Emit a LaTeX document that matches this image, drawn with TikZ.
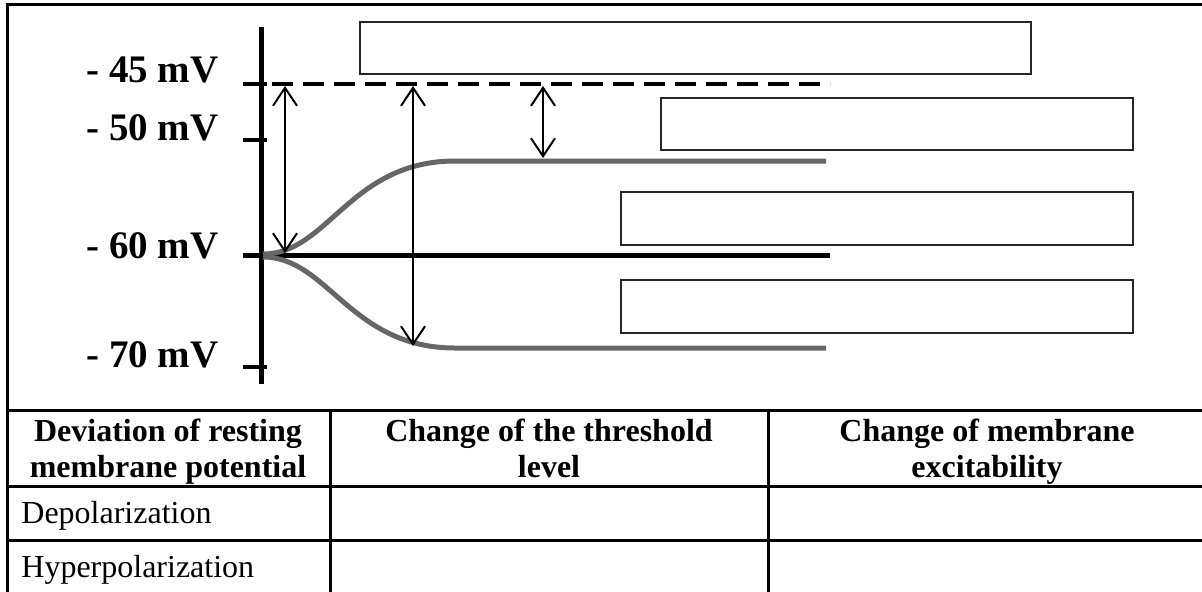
\documentclass[tikz,border=0pt]{standalone}
\usepackage{fontspec}
\setmainfont{Liberation Serif}
\usetikzlibrary{arrows.meta, positioning}
\definecolor{curvegray}{RGB}{102,102,102}
\tikzstyle{arrow} = [line width=1pt, {Straight Barb[length=9pt,width=12pt]}-{Straight Barb[length=9pt,width=12pt]}]
\tikzstyle{answerbox} = [rectangle, draw=black!85, line width=1pt, fill=white, anchor=north west, inner sep=0pt]
\tikzstyle{levellabel} = [anchor=base west, inner sep=0pt, font=\fontsize{19.5}{22}\selectfont\bfseries]
\tikzstyle{axistick} = [line width=2pt]
\tikzstyle{potcurve} = [draw=curvegray, line width=2.5pt]
\tikzstyle{tablerule} = [line width=1.5pt]
\tikzstyle{headtext} = [anchor=base, align=center, inner sep=0pt, font=\fontsize{16}{18}\selectfont\bfseries]
\tikzstyle{rowlabel} = [anchor=base west, inner sep=0pt, font=\fontsize{16}{18}\selectfont]

\begin{document}
\begin{tikzpicture}[x=0.5pt, y=-0.5pt]
    \useasboundingbox (0,0) rectangle (1202,591);

    % Frame and table
    \draw[tablerule] (7,4) rectangle (1206,596);
    \draw[tablerule] (7,410) -- (1206,410);
    \draw[tablerule] (7,486) -- (1206,486);
    \draw[tablerule] (7,540) -- (1206,540);
    \draw[tablerule] (330,410) -- (330,596);
    \draw[tablerule] (768,410) -- (768,596);

    % Axis and levels
    \coordinate (axtop) at (261,27);
    \coordinate (axbot) at (261,384);
    \draw[line width=2.5pt] (axtop) -- (axbot);
    \draw[axistick] (243,84) -- (267,84);
    \draw[axistick] (243,140) -- (267,140);
    \draw[axistick] (243,367) -- (267,367);
    \draw[line width=2pt, dash pattern=on 10.5pt off 5pt] (272,84) -- (830,84);
    \draw[line width=2.5pt] (243,255) -- (830,255);

    \node[levellabel] (l45) at (86,82) {- 45 mV};
    \node[levellabel] (l50) at (86,140) {- 50 mV};
    \node[levellabel] (l60) at (86,258) {- 60 mV};
    \node[levellabel] (l70) at (86,367) {- 70 mV};

    % Depolarization and hyperpolarization
    \draw[potcurve] (263,254) .. controls (328,254) and (350,161) .. (455,161) -- (826,161);
    \draw[potcurve] (263,257) .. controls (328,257) and (350,348) .. (455,348) -- (826,348);

    % Arrows
    \coordinate (a1top) at (285,86);
    \coordinate (a1bot) at (285,253);
    \coordinate (a2top) at (413,86);
    \coordinate (a2bot) at (413,346);
    \coordinate (a3top) at (543,86);
    \coordinate (a3bot) at (543,158);
    \draw[arrow] (a1top) -- (a1bot);
    \draw[arrow] (a2top) -- (a2bot);
    \draw[arrow] (a3top) -- (a3bot);

    % Answer boxes
    \node[answerbox, minimum width=335.5pt, minimum height=26pt] (box1) at (359,21) {};
    \node[answerbox, minimum width=236pt, minimum height=26pt] (box2) at (660,97) {};
    \node[answerbox, minimum width=256pt, minimum height=26.5pt] (box3) at (620,191) {};
    \node[answerbox, minimum width=256pt, minimum height=26.5pt] (box4) at (620,279) {};

    % Table text
    \node[headtext] (h1) at (168,477) {Deviation of resting\\membrane potential};
    \node[headtext] (h2) at (549,477) {Change of the threshold\\level};
    \node[headtext] (h3) at (987,477) {Change of membrane\\excitability};
    \node[rowlabel] (r1) at (21,523) {Depolarization};
    \node[rowlabel] (r2) at (21,577) {Hyperpolarization};

\end{tikzpicture}
\end{document}
